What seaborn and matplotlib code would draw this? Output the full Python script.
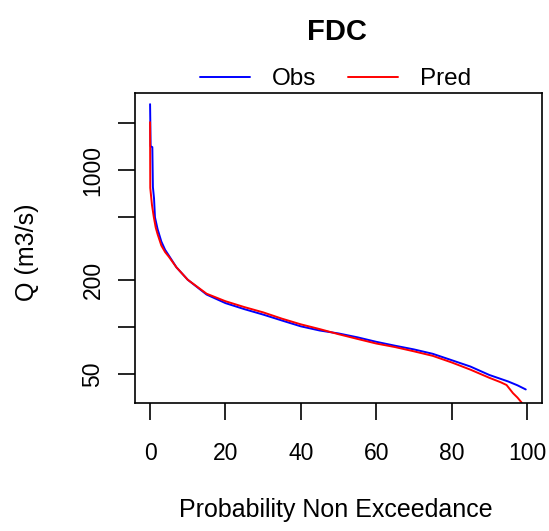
import pandas as pd
import seaborn as sns
import matplotlib.pyplot as plt

# flow duration curve values
obs_prob = [0, 0.15, 0.6, 0.75, 1.05, 1.3, 2, 3, 4, 5, 7, 10, 15, 20, 25, 30, 35, 40, 45,
            50, 55, 60, 65, 70, 75, 80, 85, 90, 95, 97.5, 99.7]
obs_q = [2630, 1420, 1400, 780, 660, 500, 420, 350, 310, 285, 240, 200, 161, 142, 130, 120, 110, 101, 95,
         91, 86, 80.5, 76, 72, 67.5, 61.5, 56, 49.5, 45, 42.5, 40]

pred_prob = [0, 0.05, 0.5, 1, 1.5, 2, 3, 4, 5, 7, 10, 15, 20, 25, 30, 35, 40, 45,
             50, 55, 60, 65, 70, 75, 80, 85, 90, 93, 94.6, 96.3, 97.5, 98.6]
pred_q = [2020, 770, 600, 500, 430, 390, 330, 300, 280, 240, 200, 163, 146, 134, 124, 113, 104, 97,
          90, 84, 78.5, 74.5, 70, 65.5, 59.5, 53.5, 47.5, 44.5, 42.7, 37.9, 35.5, 33]

y_ticks = [50, 100, 200, 500, 1000, 2000]
y_labels = ["50", "", "200", "", "1000", ""]
x_ticks = [0, 20, 40, 60, 80, 100]

df = pd.concat([
    pd.DataFrame({"prob": obs_prob, "Q": obs_q, "series": "Obs"}),
    pd.DataFrame({"prob": pred_prob, "Q": pred_q, "series": "Pred"}),
])

sns.set_style("ticks")
plt.rcParams["font.family"] = ["Liberation Sans", "DejaVu Sans"]
plt.rcParams["text.color"] = "black"
plt.rcParams["axes.labelcolor"] = "black"
plt.rcParams["xtick.color"] = "black"
plt.rcParams["ytick.color"] = "black"

fig = plt.figure(figsize=(5.49, 5.31), dpi=100)
ax = fig.add_axes([0.2459, 0.2411, 0.7413, 0.5838])

sns.lineplot(data=df, x="prob", y="Q", hue="series", palette={"Obs": "blue", "Pred": "red"},
             estimator=None, sort=False, linewidth=1.4, ax=ax)

ax.set_yscale("log")
ax.set_xlim(-4, 104)
ax.set_ylim(32.8, 3100)
ax.set_yticks(y_ticks)
ax.set_yticklabels(y_labels, rotation=90, va="center")
ax.minorticks_off()
ax.set_xticks(x_ticks)
ax.tick_params(axis="both", length=12, width=1.2, labelsize=16.5, color="black")
ax.tick_params(axis="x", pad=16)
ax.tick_params(axis="y", pad=10)
for s in ax.spines.values():
    s.set_visible(True)
    s.set_linewidth(1.2)
    s.set_color("black")

ax.set_xlabel("Probability Non Exceedance", fontsize=18)
ax.xaxis.set_label_coords(0.494, -0.306)
ax.set_ylabel("Q (m3/s)", fontsize=18)
ax.yaxis.set_label_coords(-0.236, 0.485)
fig.text(336.5 / 549, 1 - 40 / 531, "FDC", fontsize=21, fontweight="bold",
         ha="center", va="baseline")

ax.legend(loc="center", bbox_to_anchor=(335.5 / 549, 1 - 79 / 531), bbox_transform=fig.transFigure,
          ncol=2, frameon=False, fontsize=17.5, handlelength=2.06, handletextpad=0.9,
          columnspacing=1.27, borderaxespad=0, borderpad=0)

fig.savefig("out.png", dpi=100)
